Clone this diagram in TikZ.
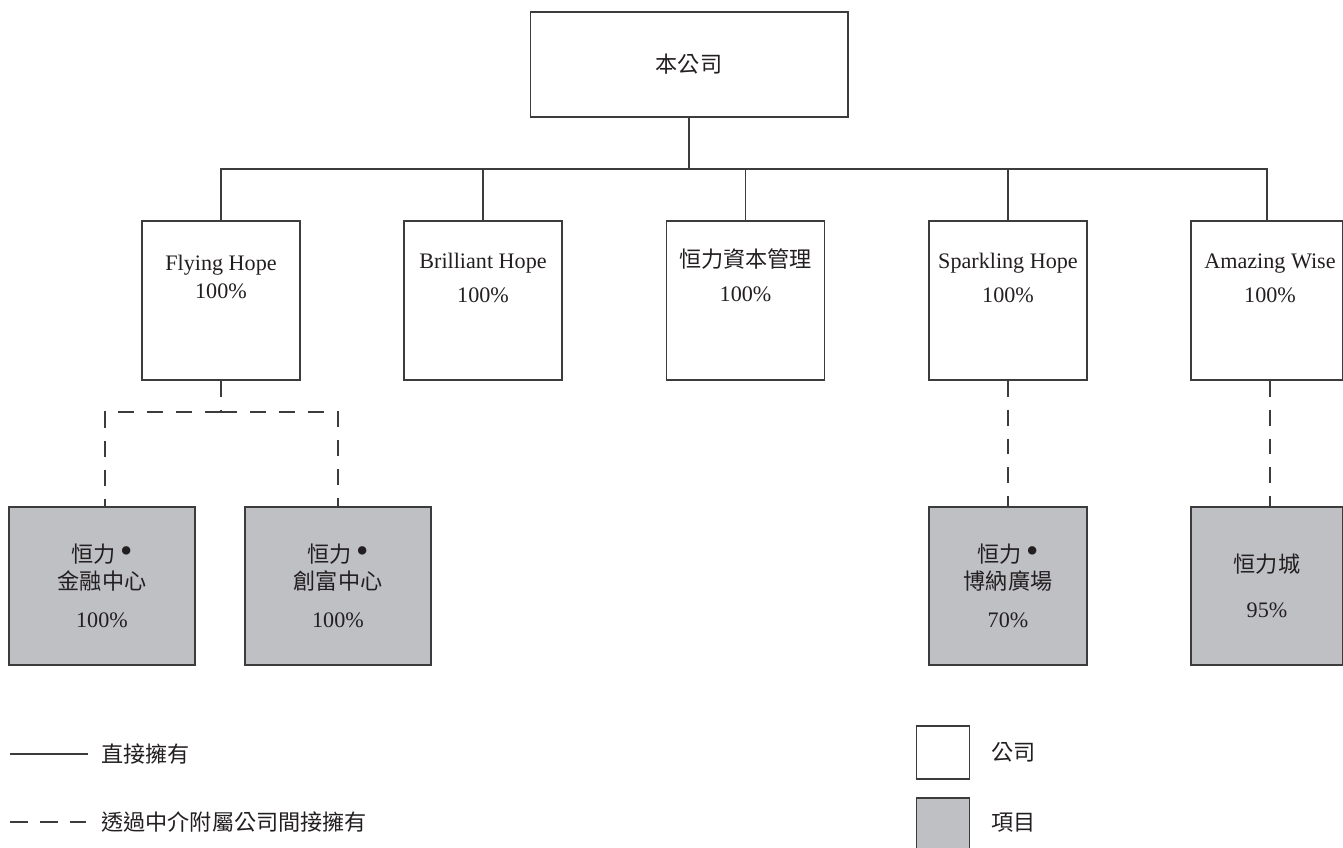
\documentclass[tikz,border=0pt]{standalone}
\usepackage{fontspec}
\setmainfont{Liberation Serif}
\newfontfamily\cjk{Noto Sans CJK TC}
\definecolor{boxgrey}{RGB}{191,192,196}
\definecolor{linegrey}{RGB}{60,60,60}
\definecolor{inkdark}{RGB}{35,31,32}
\newcommand{\bigdot}{\hspace{0.2em}{\fontsize{20}{15.4}\selectfont\textbullet}}

\begin{document}
\begin{tikzpicture}[x=0.02cm, y=-0.02cm,
    every node/.style={font=\fontsize{12.6}{15.4}\selectfont, text=inkdark},
    company/.style={rectangle, draw=linegrey, fill=white, line width=0.6pt, minimum width=3.16cm, minimum height=3.18cm, inner sep=0pt},
    project/.style={rectangle, draw=linegrey, fill=boxgrey, line width=0.6pt, minimum width=3.72cm, minimum height=3.16cm, inner sep=0pt, align=center},
    boxtext/.style={align=center, inner sep=0pt},
    legendbox/.style={rectangle, draw=linegrey, line width=0.6pt, minimum width=1.06cm, minimum height=1.06cm, inner sep=0pt},
    direct/.style={draw=linegrey, line width=0.6pt},
    indirect/.style={draw=linegrey, line width=0.6pt, dash pattern=on 0.32cm off 0.26cm}
]
\useasboundingbox (0,0) rectangle (1343,848);

% Top
\node[company, minimum width=6.36cm, minimum height=2.1cm] (hq) at (689,64.5) {\cjk 本公司};

% Subsidiaries
\node[company] (fh) at (221,300.5) {};
\node[company] (bh) at (483,300.5) {};
\node[company] (cap) at (745.5,300.5) {};
\node[company] (sh) at (1008,300.5) {};
\node[company, minimum width=3.04cm] (aw) at (1267,300.5) {};

\node[boxtext] (fhtext) at (221,277) {Flying Hope\\[1pt]100\%};
\node[boxtext] (bhtext) at (483,278) {Brilliant Hope\\[4pt]100\%};
\node[boxtext] (captext) at (745.5,275) {{\cjk 恒力資本管理}\\[4pt]100\%};
\node[boxtext] (shtext) at (1008,278) {Sparkling Hope\\[4pt]100\%};
\node[boxtext] (awtext) at (1270,278) {Amazing Wise\\[4pt]100\%};

% Projects
\node[project] (jr) at (102,586) {{\cjk 恒力}\bigdot\\{\cjk 金融中心}\\[6pt]100\%};
\node[project] (cf) at (338,586) {{\cjk 恒力}\bigdot\\{\cjk 創富中心}\\[6pt]100\%};
\node[project, minimum width=3.16cm] (bn) at (1008,586) {{\cjk 恒力}\bigdot\\{\cjk 博納廣場}\\[6pt]70\%};
\node[project, minimum width=3.04cm] (hc) at (1267,586) {{\cjk 恒力城}\\[10pt]95\%};

% Direct holdings
\coordinate (bus) at (689,169);
\draw[direct] (hq.south) -- (bus);
\foreach \n in {fh,bh,cap,sh,aw}
  \draw[direct] (bus) -| (\n.north);

% Indirect holdings
\coordinate (fhsplit) at (221,412);
\draw[indirect] (fh.south) -- (fhsplit);
\draw[indirect] (fhsplit) -| ([xshift=0.06cm]jr.north);
\draw[indirect] (fhsplit) -| (cf.north);
\draw[indirect] (sh.south) -- (bn.north);
\draw[indirect] ([xshift=0.06cm]aw.south) -- ([xshift=0.06cm]hc.north);

% Legend
\coordinate (solidA) at (10,754);
\coordinate (solidB) at (88,754);
\coordinate (dashA) at (10,822);
\coordinate (dashB) at (86,822);
\draw[direct] (solidA) -- (solidB);
\draw[draw=linegrey, line width=0.6pt, dash pattern=on 0.36cm off 0.24cm] (dashA) -- (dashB);
\node[anchor=west, inner sep=0pt] (directtext) at (101,754) {\cjk 直接擁有};
\node[anchor=west, inner sep=0pt] (indirecttext) at (101,822) {\cjk 透過中介附屬公司間接擁有};

\node[legendbox, fill=white] (keyco) at (943,752.5) {};
\node[legendbox, fill=boxgrey] (keyproj) at (943,824.5) {};
\node[anchor=west, inner sep=0pt] (keycotext) at (991,752) {\cjk 公司};
\node[anchor=west, inner sep=0pt] (keyprojtext) at (991,823) {\cjk 項目};

\end{tikzpicture}
\end{document}
